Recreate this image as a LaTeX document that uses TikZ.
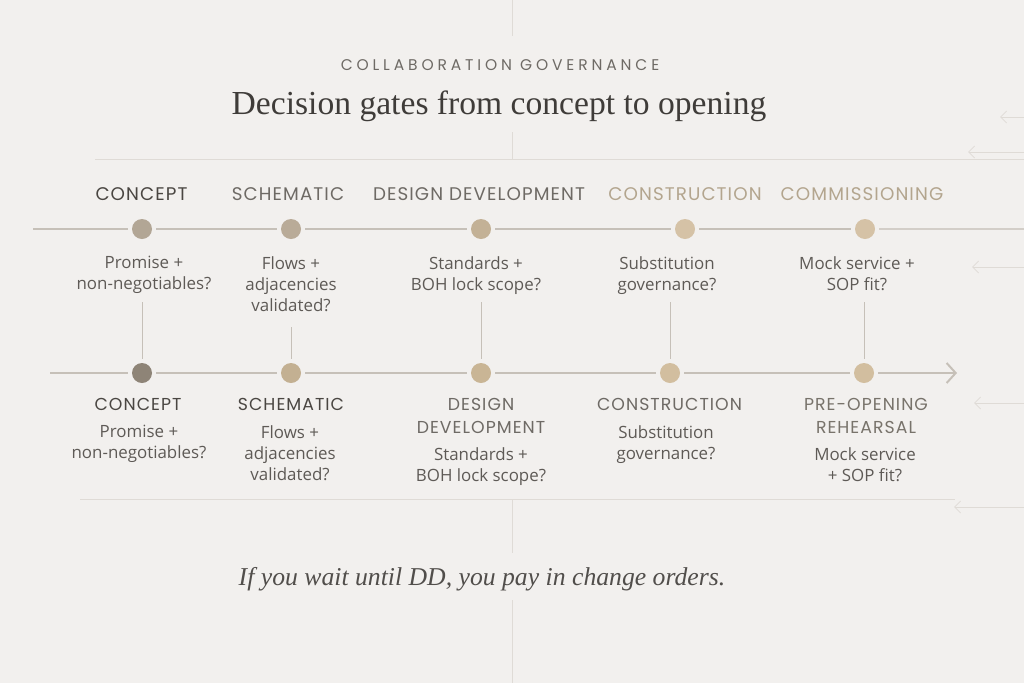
\documentclass[tikz,border=0pt]{standalone}
\usepackage{fontspec}
\setmainfont{Liberation Serif}
\newfontfamily\capsf[LetterSpace=6]{Poppins}
\newfontfamily\kickerf[LetterSpace=25]{Poppins}
\newfontfamily\bodyf{Open Sans}
\usetikzlibrary{arrows.meta}
\definecolor{bg}{HTML}{F2F0EE}
\definecolor{tline}{HTML}{C6C0B8}
\definecolor{faintc}{HTML}{DFDBD6}
\definecolor{darkc}{HTML}{4A4642}
\definecolor{midc}{HTML}{6E6A65}
\definecolor{tanc}{HTML}{B3A58E}
\definecolor{bodyc}{HTML}{5E5A56}
\definecolor{titlec}{HTML}{3F3C39}
\definecolor{dA}{HTML}{B2A695}
\definecolor{dB}{HTML}{8E8477}
\definecolor{dS}{HTML}{B9AB98}
\definecolor{dD}{HTML}{C3B196}
\definecolor{dT}{HTML}{D5C2A6}
\definecolor{dBS}{HTML}{C3B092}
\definecolor{dBD}{HTML}{C9B595}
\definecolor{dBT}{HTML}{D2BE9F}
\begin{document}
\begin{tikzpicture}[x=1pt,y=-1pt,
  caplab/.style={font=\capsf\fontsize{18.3}{23}\selectfont, align=center, inner sep=0pt, anchor=north},
  caplabb/.style={font=\capsf\fontsize{17.3}{23}\selectfont, align=center, inner sep=0pt, anchor=north},
  desc/.style={font=\bodyf\fontsize{16.9}{21}\selectfont, text=bodyc, align=center, inner sep=0pt, anchor=north},
  gate/.style={circle, minimum size=20pt, inner sep=0pt, outer sep=4pt},
  tl/.style={draw=tline, line width=2pt},
  conn/.style={draw=tline, line width=1pt},
  faint/.style={draw=faintc, line width=0.8pt},
  faintarrow/.style={faint, -{Straight Barb[length=6pt,width=12pt]}}
]
\useasboundingbox (0,0) rectangle (1024,683);
\fill[bg] (0,0) rectangle (1024,683);

% faint background guides
\coordinate (v1a) at (512,0);   \coordinate (v1b) at (512,36);
\coordinate (v2a) at (512,132); \coordinate (v2b) at (512,160);
\coordinate (v3a) at (512,500); \coordinate (v3b) at (512,553);
\coordinate (v4a) at (512,600); \coordinate (v4b) at (512,683);
\coordinate (h1a) at (95,159);  \coordinate (h1b) at (1024,159);
\coordinate (h2a) at (80,499);  \coordinate (h2b) at (955,499);
\draw[faint] (v1a) -- (v1b) (v2a) -- (v2b) (v3a) -- (v3b) (v4a) -- (v4b);
\draw[faint] (h1a) -- (h1b) (h2a) -- (h2b);
\coordinate (r1a) at (1024,117); \coordinate (r1b) at (1000,117);
\coordinate (r2a) at (1024,152); \coordinate (r2b) at (968,152);
\coordinate (r3a) at (1024,267); \coordinate (r3b) at (972,267);
\coordinate (r4a) at (1024,403); \coordinate (r4b) at (974,403);
\coordinate (r5a) at (1024,507); \coordinate (r5b) at (954,507);
\draw[faintarrow] (r1a) -- (r1b);
\draw[faintarrow] (r2a) -- (r2b);
\draw[faintarrow] (r3a) -- (r3b);
\draw[faintarrow] (r4a) -- (r4b);
\draw[faintarrow] (r5a) -- (r5b);

% headings
\node[font=\kickerf\fontsize{15.5}{15.5}\selectfont, text=midc, inner sep=0pt, anchor=base] (kicker) at (500,70) {COLLABORATION GOVERNANCE};
\node[font=\fontsize{33.6}{33.6}\selectfont, text=titlec, inner sep=0pt, anchor=base] (title) at (499,114) {Decision gates from concept to opening};

% top row
\node[gate, fill=dA] (t1) at (142,229) {};
\node[gate, fill=dS] (t2) at (291,229) {};
\node[gate, fill=dD] (t3) at (481,229) {};
\node[gate, fill=dT] (t4) at (685,229) {};
\node[gate, fill=dT] (t5) at (865,229) {};
\coordinate (tL) at (33,229);
\coordinate (tR) at (1024,229);
\draw[tl] (tL) -- (t1) (t1) -- (t2) (t2) -- (t3) (t3) -- (t4) (t4) -- (t5);
\draw[tl, draw=tline!70!bg] (t5) -- (tR);

\node[caplab, text=darkc] (tlab1) at (141.5,187) {CONCEPT};
\node[caplab, text=midc]  (tlab2) at (288,187) {SCHEMATIC};
\node[caplab, text=midc]  (tlab3) at (479,187) {DESIGN DEVELOPMENT};
\node[caplab, text=tanc]  (tlab4) at (685,187) {CONSTRUCTION};
\node[caplab, text=tanc]  (tlab5) at (862,187) {COMMISSIONING};

\node[desc] (tdesc1) at (144,256) {Promise +\\non-negotiables?};
\node[desc] (tdesc2) at (291,256) {Flows +\\adjacencies\\validated?};
\node[desc] (tdesc3) at (476,256) {Standards +\\BOH lock scope?};
\node[desc] (tdesc4) at (667,256) {Substitution\\governance?};
\node[desc] (tdesc5) at (857,256) {Mock service +\\SOP fit?};

% bottom row
\node[gate, fill=dB]  (b1) at (142,373) {};
\node[gate, fill=dBS] (b2) at (291,373) {};
\node[gate, fill=dBD] (b3) at (481,373) {};
\node[gate, fill=dBT] (b4) at (670,373) {};
\node[gate, fill=dBT] (b5) at (864,373) {};
\coordinate (bL) at (50,373);
\coordinate (bR) at (957,373);
\draw[tl] (bL) -- (b1) (b1) -- (b2) (b2) -- (b3) (b3) -- (b4) (b4) -- (b5);
\draw[tl, -{Straight Barb[length=9pt,width=20pt]}] (b5) -- (bR);

\node[caplabb, text=darkc] (blab1) at (138,398) {CONCEPT};
\node[caplabb, text=darkc] (blab2) at (291,398) {SCHEMATIC};
\node[caplabb, text=midc]  (blab3) at (481,398) {DESIGN\\DEVELOPMENT};
\node[caplabb, text=midc]  (blab4) at (669.5,398) {CONSTRUCTION};
\node[caplabb, text=midc!85!tanc] (blab5) at (866,398) {PRE-OPENING\\REHEARSAL};

\node[desc] (bdesc1) at (139,425) {Promise +\\non-negotiables?};
\node[desc] (bdesc2) at (290,425) {Flows +\\adjacencies\\validated?};
\node[desc] (bdesc3) at (481,447) {Standards +\\BOH lock scope?};
\node[desc] (bdesc4) at (666,425) {Substitution\\governance?};
\node[desc] (bdesc5) at (865,447) {Mock service\\+ SOP fit?};

% connectors between rows
\coordinate (c1) at (142,302);
\coordinate (c2) at (291,327);
\coordinate (c3) at (481,302);
\coordinate (c4) at (670,302);
\coordinate (c5) at (864,302);
\draw[conn] (c1) -- (b1);
\draw[conn] (c2) -- (b2);
\draw[conn] (c3) -- (b3);
\draw[conn] (c4) -- (b4);
\draw[conn] (c5) -- (b5);

% footer
\node[font=\itshape\fontsize{25.7}{25.7}\selectfont, text=titlec!90!bg, inner sep=0pt, anchor=base] (footer) at (482,585) {If you wait until DD, you pay in change orders.};
\end{tikzpicture}
\end{document}
